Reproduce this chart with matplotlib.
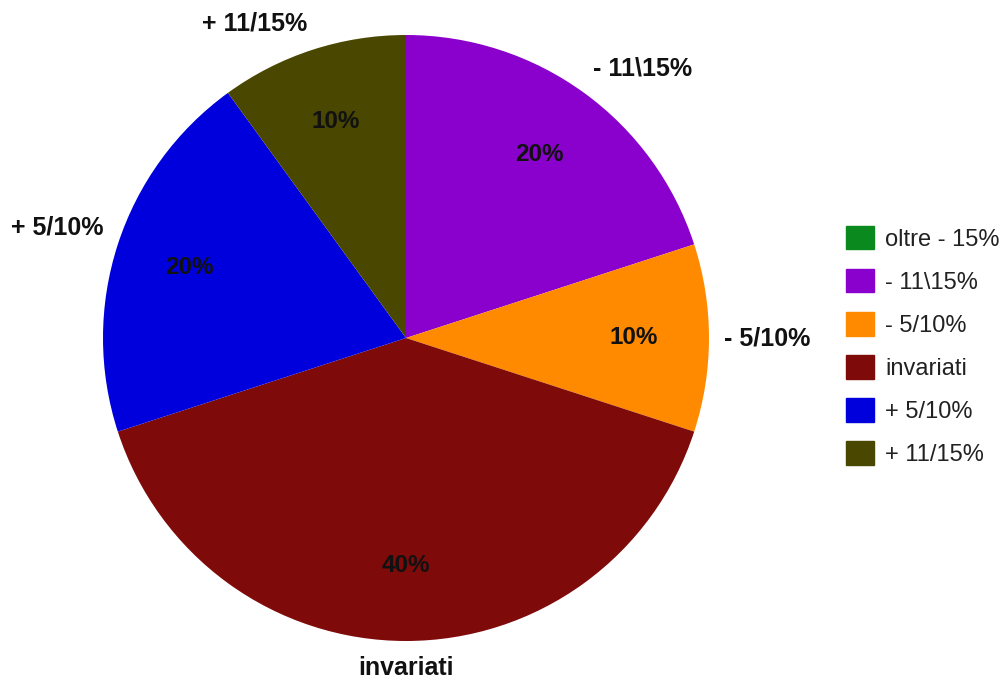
import matplotlib.pyplot as plt
import numpy as np

plt.rcParams['font.family'] = ['Liberation Sans', 'DejaVu Sans']

# share of answers per price change class
categories = ['oltre - 15%', '- 11\\15%', '- 5/10%', 'invariati', '+ 5/10%', '+ 11/15%']
shares = [0, 20, 10, 40, 20, 10]
colors = ['#0a8a1e', '#8a00cc', '#ff8a00', '#7f0a0a', '#0000dc', '#4a4700']

W, H = 1008, 682
fig = plt.figure(figsize=(W / 100, H / 100), dpi=100)
ax = fig.add_axes([0, 0, 1, 1])

cx, cy, r = 406, H - 338, 303

wedges, _ = ax.pie(shares, colors=colors, startangle=90, counterclock=False,
                   center=(cx, cy), radius=r, frame=True,
                   wedgeprops=dict(linewidth=0))
ax.set_xlim(0, W)
ax.set_ylim(0, H)
ax.set_aspect('equal')
ax.axis('off')

total = sum(shares)
start = 0.0
for cat, val in zip(categories, shares):
    if val == 0:
        continue
    mid = np.deg2rad((start + val / 2) / total * 360)
    s, c = np.sin(mid), np.cos(mid)
    # percentage inside the slice
    ax.text(cx + 0.75 * r * s, cy + 0.75 * r * c, f'{val / total * 100:.0f}%',
            ha='center', va='center', fontsize=17.5, fontweight='bold', color='#111111')
    # category name outside
    ha = 'left' if s > 0.1 else ('right' if s < -0.1 else 'center')
    va = 'bottom' if c > 0.1 else ('top' if c < -0.1 else 'center')
    ax.text(cx + 1.05 * r * s, cy + 1.05 * r * c, cat, ha=ha, va=va,
            fontsize=18, fontweight='bold', color='#111111')
    start += val

handles = [plt.Rectangle((0, 0), 1, 1, color=col) for col in colors]
fig.legend(handles, categories, loc='center left',
           bbox_to_anchor=(846 / W, 1 - 346 / H), bbox_transform=fig.transFigure,
           frameon=False, fontsize=17, borderpad=0, borderaxespad=0,
           handlelength=1.2, handleheight=1.15, handletextpad=0.45,
           labelspacing=0.78, labelcolor='#222222')

fig.savefig('out.png', dpi=100, facecolor='white')
